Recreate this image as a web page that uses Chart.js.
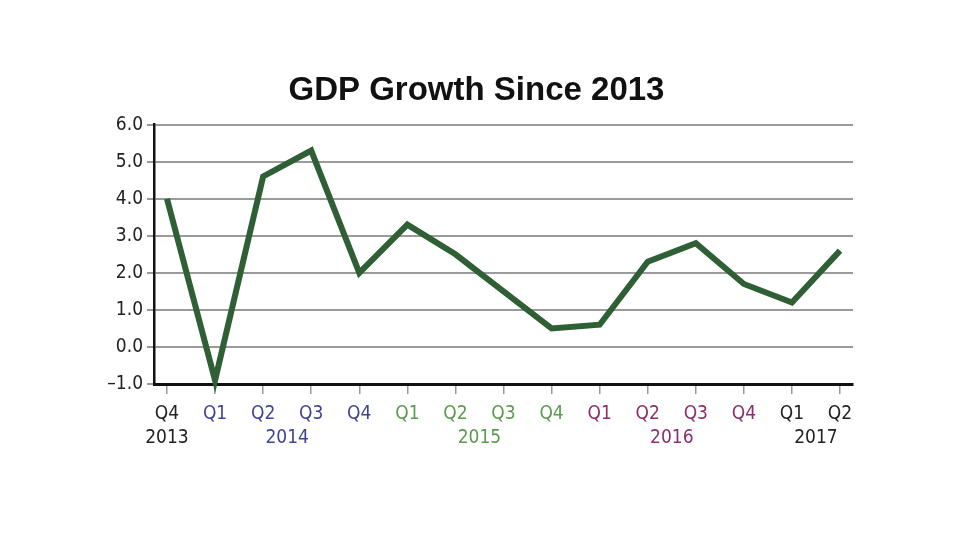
<!DOCTYPE html>
<html>
<head>
<meta charset="utf-8">
<title>GDP Growth Since 2013</title>
<script src="https://cdn.jsdelivr.net/npm/chart.js@4.4.1/dist/chart.umd.min.js"></script>
<style>
  html, body { margin: 0; padding: 0; background: #fff; }
  #chart { display: block; }
</style>
</head>
<body>
<canvas id="chart" width="980" height="552"></canvas>
<script>
// Data (annualized quarterly GDP growth, %)
const quarters = ["Q4", "Q1", "Q2", "Q3", "Q4", "Q1", "Q2", "Q3", "Q4", "Q1", "Q2", "Q3", "Q4", "Q1", "Q2"];
const years = ["2013", "2014", "2014", "2014", "2014", "2015", "2015", "2015", "2015", "2016", "2016", "2016", "2016", "2017", "2017"];
const growth = [4.0, -0.9, 4.6, 5.3, 2.0, 3.3, 2.5, 1.5, 0.5, 0.6, 2.3, 2.8, 1.7, 1.2, 2.6];
const yTicks = [-1, 0, 1, 2, 3, 4, 5, 6];
const yearNames = ["2013", "2014", "2015", "2016", "2017"];
const yearColors = {
    "2013": "#222222",
    "2014": "#3f4596",
    "2015": "#5b9a4f",
    "2016": "#8c2f6c",
    "2017": "#222222"
};

// year label sits under the middle of its quarters
const yearPos = yearNames.map(y => {
    const idx = years.map((v, i) => v === y ? i : -1).filter(i => i >= 0);
    return idx.reduce((a, b) => a + b, 0) / idx.length;
});

const narrow = "'Liberation Sans Narrow', 'DejaVu Sans Condensed', 'Roboto Condensed', sans-serif";

new Chart(document.getElementById("chart"), {
    type: "line",
    data: {
        datasets: [{
            data: growth.map((v, i) => ({ x: i, y: v })),
            borderColor: "#2f5f35",
            borderWidth: 6,
            pointRadius: 0,
            tension: 0,
            borderJoinStyle: "miter",
            clip: false
        }]
    },
    options: {
        responsive: false,
        animation: false,
        layout: { padding: { left: 100, right: 127, top: 0, bottom: 98 } },
        plugins: {
            legend: { display: false },
            tooltip: { enabled: false },
            title: {
                display: true,
                text: "GDP Growth Since 2013",
                color: "#111",
                font: { family: "'Liberation Sans', Arial, sans-serif", size: 33, weight: "bold" },
                padding: { top: 71, bottom: 14 }
            }
        },
        scales: {
            x: {
                type: "linear",
                min: -0.27,
                max: quarters.length - 1 + 0.27,
                afterBuildTicks: axis => { axis.ticks = quarters.map((q, i) => ({ value: i })); },
                afterFit: scale => { scale.height = 40; },
                border: { color: "#111", width: 3 },
                grid: { drawOnChartArea: false, drawTicks: true, tickLength: 10, color: "#999", lineWidth: 1.5 },
                ticks: {
                    autoSkip: false,
                    maxRotation: 0,
                    padding: 9,
                    font: { family: narrow, size: 19 },
                    color: ctx => yearColors[years[ctx.index]] || "#222",
                    callback: value => quarters[value]
                }
            },
            x2: {
                type: "linear",
                position: "bottom",
                min: -0.27,
                max: quarters.length - 1 + 0.27,
                afterBuildTicks: axis => { axis.ticks = yearPos.map(v => ({ value: v })); },
                afterFit: scale => { scale.height = 30; },
                border: { display: false },
                grid: { display: false, drawTicks: false },
                ticks: {
                    autoSkip: false,
                    maxRotation: 0,
                    padding: 3,
                    font: { family: narrow, size: 19 },
                    color: ctx => yearColors[yearNames[ctx.index]],
                    callback: (value, index) => yearNames[index]
                }
            },
            y: {
                min: -1,
                max: 6,
                afterBuildTicks: axis => { axis.ticks = yTicks.map(v => ({ value: v })); },
                afterFit: scale => { scale.width = 54; },
                border: { color: "#111", width: 2.5 },
                grid: { color: "#9a9a9a", lineWidth: 2, tickLength: 7 },
                ticks: {
                    padding: 4,
                    color: "#222",
                    font: { family: narrow, size: 19 },
                    callback: v => (v < 0 ? "\u2013" + Math.abs(v).toFixed(1) : v.toFixed(1))
                }
            }
        }
    }
});
</script>
</body>
</html>
